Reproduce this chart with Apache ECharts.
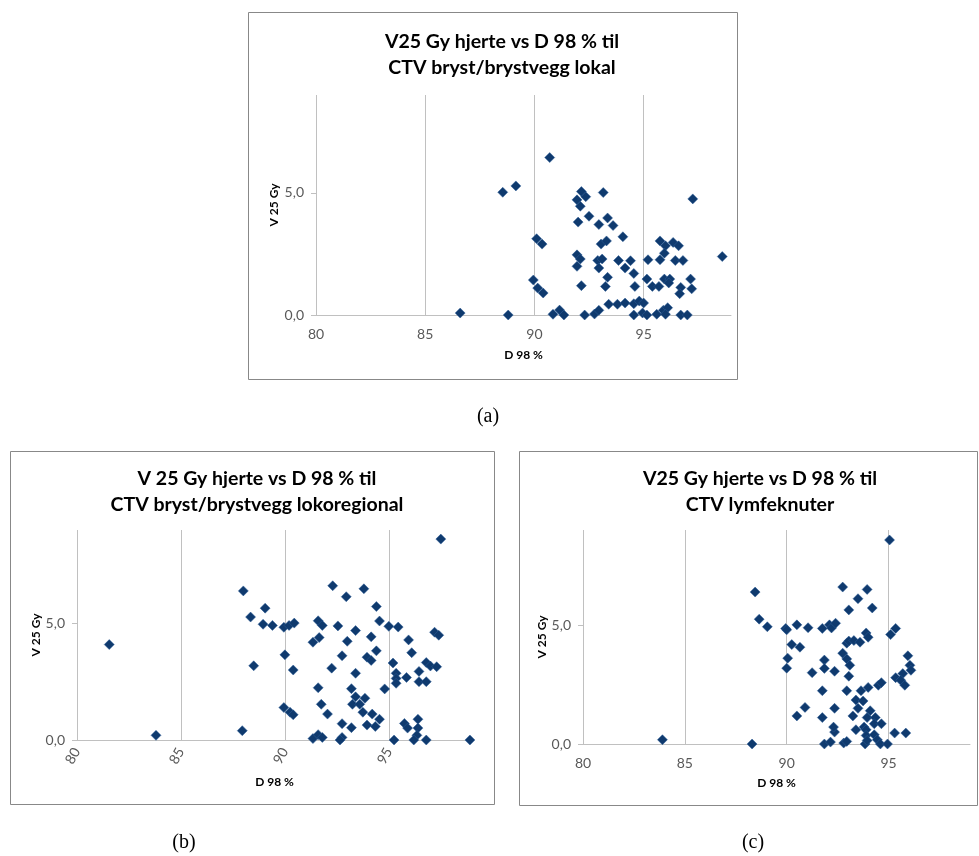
<!DOCTYPE html>
<html><head><meta charset="utf-8">
<script src="https://cdn.jsdelivr.net/npm/echarts@6/dist/echarts.min.js"></script>
<style>html,body{margin:0;padding:0;background:#fff}#c{width:979px;height:856px}</style>
</head><body><div id="c"></div>
<script>
// Chart (a): V25 Gy hjerte vs D 98 % til CTV bryst/brystvegg lokal
const aX = [86.6,88.8,88.55,89.15,90.7,90.1,90.35,89.95,90.15,90.4,90.85,91.15,91.35,92.15,92.35,91.95,92.1,93.15,92.5,92.0,92.95,93.35,93.6,94.05,93.05,93.3,91.95,92.1,91.95,92.9,93.1,92.95,93.85,94.15,94.4,94.55,92.15,93.35,93.25,94.6,93.4,93.8,94.15,94.55,94.8,95.0,92.3,92.75,92.95,94.55,94.95,95.15,95.6,95.9,96.1,96.0,96.7,97.0,95.2,95.75,95.15,95.4,95.7,95.95,96.2,96.15,95.75,96.0,95.95,96.35,96.6,96.45,96.8,96.7,96.65,97.15,97.2,97.25,98.6];
const aY = [0.08,0,5.02,5.28,6.44,3.12,2.9,1.43,1.1,0.9,0.03,0.2,0,5.05,4.84,4.71,4.45,5.01,4.04,3.8,3.7,3.97,3.66,3.2,2.9,3.03,2.46,2.29,1.99,2.23,2.29,1.92,2.23,1.92,2.22,1.7,1.2,1.54,1.17,1.17,0.44,0.44,0.49,0.46,0.57,0.49,0,0.04,0.19,0,0.08,0,0.03,0.19,0.3,0.03,0,0,2.26,2.26,1.47,1.17,1.17,1.47,1.47,1.31,3.03,2.83,2.53,2.97,2.83,2.23,2.23,1.13,0.87,1.47,1.07,4.75,2.39];
// Chart (b): V 25 Gy hjerte vs D 98 % til CTV bryst/brystvegg lokoregional
const bX = [81.55,83.8,88.0,89.05,88.35,88.95,89.4,89.95,90.2,90.45,88.5,90.0,90.4,87.95,89.95,90.25,90.4,91.6,91.8,91.35,91.65,92.3,92.95,93.8,92.55,93.4,93.0,94.4,94.55,94.15,94.4,92.75,93.95,94.15,92.25,93.4,91.6,93.2,94.8,93.4,93.85,93.25,93.6,91.75,93.75,94.2,92.05,94.55,92.75,93.2,93.95,94.35,91.35,91.6,91.8,92.75,92.65,95.0,95.45,95.95,96.1,95.2,95.35,95.35,95.35,95.85,96.45,96.45,96.8,96.8,97.0,97.3,97.2,97.4,97.5,96.4,95.75,95.9,96.4,96.35,96.2,96.8,95.25,98.9];
const bY = [4.09,0.2,6.39,5.65,5.27,4.96,4.91,4.83,4.91,5.01,3.18,3.65,3.0,0.4,1.39,1.19,1.08,5.11,4.91,4.19,4.39,6.61,6.14,6.48,4.89,4.69,4.23,5.72,5.1,4.42,3.82,3.61,3.55,3.41,3.08,2.86,2.24,2.2,2.19,1.85,1.79,1.53,1.53,1.53,1.19,1.11,1.11,0.89,0.7,0.53,0.64,0.58,0.06,0.23,0.11,0.11,0,4.87,4.84,4.29,3.74,3.3,2.86,2.64,2.43,2.68,2.94,2.5,2.5,3.32,3.17,3.14,4.62,4.49,8.61,0.89,0.71,0.51,0.51,0.2,0,0,0,0];
// Chart (c): V25 Gy hjerte vs D 98 % til CTV lymfeknuter
const cX = [83.9,88.45,88.65,89.05,88.3,89.95,90.0,90.5,91.05,91.75,92.1,92.2,92.4,90.25,90.65,90.05,90.0,91.25,91.85,91.85,92.35,91.75,90.9,90.5,91.75,92.35,91.85,92.15,92.35,92.3,92.75,93.5,93.95,93.05,94.2,92.95,93.05,93.3,93.6,93.9,94.0,92.75,92.95,93.1,93.05,92.95,93.65,94.0,94.5,94.65,93.4,93.75,93.5,93.25,94.1,93.95,94.35,94.3,94.65,93.4,93.8,93.9,93.9,94.3,94.45,92.8,92.95,93.85,93.95,94.6,94.95,95.05,95.1,95.35,95.95,96.05,96.1,95.35,95.7,95.6,95.8,95.3,95.85];
const cY = [0.18,6.39,5.25,4.93,0,4.86,4.8,5.01,4.89,4.86,5.01,4.88,5.08,4.18,4.07,3.61,3.19,3.0,3.53,3.18,3.06,2.24,1.54,1.18,1.11,1.5,0,0.08,0.5,0.71,6.6,6.11,6.5,5.64,5.72,4.24,4.33,4.35,4.28,4.67,4.49,3.82,3.58,3.31,2.85,2.24,2.24,2.38,2.47,2.58,1.85,1.81,1.5,1.18,1.4,1.11,1.11,0.85,0.85,0.6,0.71,0.6,0.36,0.39,0.18,0.04,0.11,0,0.15,0,0,8.58,4.6,4.86,3.71,3.31,3.1,2.79,2.96,2.68,2.47,0.46,0.46];

const titles = [
  'V25 Gy hjerte vs D 98 % til\nCTV bryst/brystvegg lokal',
  'V 25 Gy hjerte vs D 98 % til\nCTV bryst/brystvegg lokoregional',
  'V25 Gy hjerte vs D 98 % til\nCTV lymfeknuter'
];
const captions = ['(a)', '(b)', '(c)'];
const xTicks = [80, 85, 90, 95];
const yTicks = [0, 5];
const xName = 'D 98 %';
const yName = 'V 25 Gy';

const pairs = (xs, ys) => xs.map((x, i) => [x, ys[i]]);

const grids = [
  {left: 316, top: 95, width: 415, height: 220},
  {left: 77, top: 530, width: 395, height: 210},
  {left: 583, top: 530, width: 387, height: 214}
];
const boxes = [[248, 12, 489, 367], [10, 451, 484, 353], [519, 451, 458, 354]];
const titlePos = [[497, 24], [252, 461], [755, 461]];
const captionPos = [[488, 417], [184, 843], [753, 843]];
const xNameGap = [34, 36, 33];
const yNameGap = [36, 34, 33];

const fmt = v => v.toFixed(1).replace('.', ',');
const gridColor = '#c0c0c0';

const option = {
  animation: false,
  backgroundColor: '#fff',
  title: titles.map((t, i) => ({
    text: t, left: titlePos[i][0], top: titlePos[i][1], textAlign: 'center',
    textStyle: {fontFamily: 'Lato', fontWeight: 'bold', fontSize: 19.5, lineHeight: 26, color: '#000'}
  })),
  grid: grids,
  xAxis: grids.map((g, i) => ({
    type: 'value', gridIndex: i, min: 80, max: 99, interval: 5,
    name: xName, nameLocation: 'middle', nameGap: xNameGap[i],
    nameTextStyle: {fontFamily: 'Lato', fontWeight: 'bold', fontSize: 12, color: '#000'},
    axisLine: {show: true, onZero: false, lineStyle: {color: gridColor}},
    axisTick: {show: false},
    axisLabel: {
      customValues: xTicks, color: '#595959', fontFamily: 'Lato', fontSize: 14,
      margin: i === 1 ? 9 : 12, rotate: i === 1 ? 60 : 0
    },
    splitLine: {show: true, showMaxLine: false, lineStyle: {color: gridColor}}
  })),
  yAxis: grids.map((g, i) => ({
    type: 'value', gridIndex: i, min: 0, max: 9, interval: 5,
    name: yName, nameLocation: 'middle', nameGap: yNameGap[i], nameRotate: 90,
    nameTextStyle: {fontFamily: 'Lato', fontWeight: 'bold', fontSize: 12, color: '#000'},
    axisLine: {show: false},
    axisTick: {show: true, customValues: yTicks, length: 5, lineStyle: {color: gridColor}},
    axisLabel: {customValues: yTicks, formatter: fmt, color: '#595959', fontFamily: 'Lato', fontSize: 14, margin: 12},
    splitLine: {show: true, showMaxLine: false, lineStyle: {color: gridColor}}
  })),
  series: [pairs(aX, aY), pairs(bX, bY), pairs(cX, cY)].map((d, i) => ({
    type: 'scatter', xAxisIndex: i, yAxisIndex: i, data: d,
    symbol: 'diamond', symbolSize: 10,
    itemStyle: {color: '#0f3a6e', borderColor: '#2f5f98', borderWidth: 0.5, opacity: 1}
  })),
  graphic: [
    ...boxes.map(b => ({type: 'rect', silent: true, z: -1,
      shape: {x: b[0] + 0.5, y: b[1] + 0.5, width: b[2], height: b[3]},
      style: {fill: null, stroke: '#888', lineWidth: 1}})),
    ...captions.map((c, i) => ({type: 'text', x: captionPos[i][0], y: captionPos[i][1],
      style: {text: c, font: '20px "Liberation Serif"', fill: '#000', align: 'center', verticalAlign: 'middle'}}))
  ]
};
const chart = echarts.init(document.getElementById('c'), null, {renderer: 'canvas'});
chart.setOption(option);
</script></body></html>
